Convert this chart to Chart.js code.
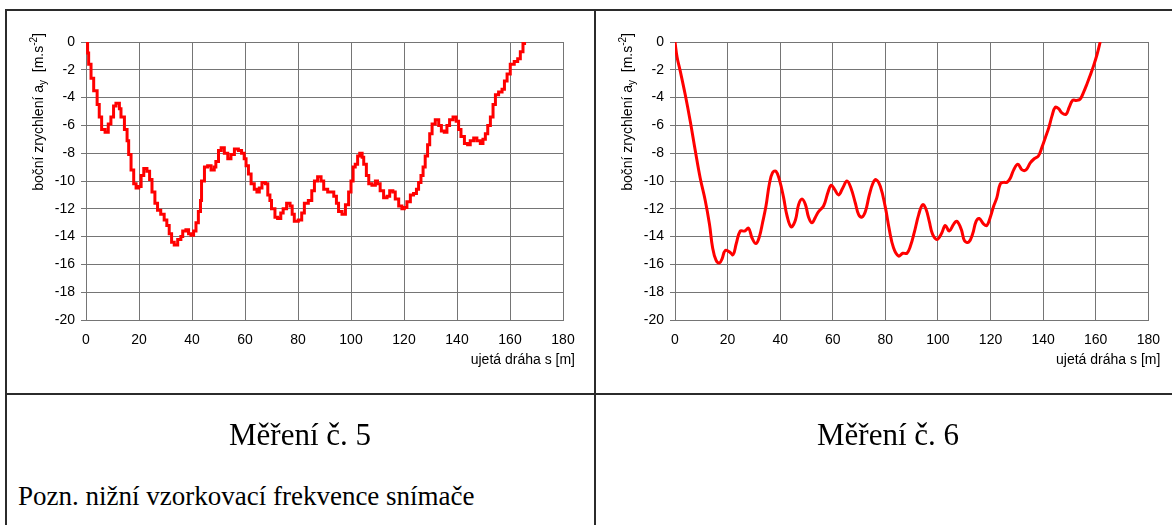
<!DOCTYPE html>
<html lang="cs">
<head>
<meta charset="utf-8">
<title>Měření č. 5 a 6</title>
<script src="https://cdn.jsdelivr.net/npm/chart.js@4.4.1/dist/chart.umd.min.js"></script>
<style>
  html, body { margin: 0; padding: 0; background: #fff; }
  #stranka { position: relative; width: 1172px; height: 525px; overflow: hidden; }
  .cara { position: absolute; background: #2b2b2b; }
  canvas { position: absolute; top: 0; }
  .popisek { position: absolute; font-family: "Liberation Serif", "Times New Roman", serif; color: #000; white-space: nowrap; }
</style>
</head>
<body>
<div id="stranka">
  <canvas id="graf5" width="595" height="394" style="left:0"></canvas>
  <canvas id="graf6" width="576" height="394" style="left:596px"></canvas>

  <div class="cara" style="left:5px; top:9px; width:1167px; height:2px"></div>
  <div class="cara" style="left:5px; top:9px; width:2px; height:516px"></div>
  <div class="cara" style="left:594px; top:9px; width:2px; height:516px"></div>
  <div class="cara" style="left:5px; top:393px; width:1167px; height:2px"></div>

  <div class="popisek" style="left:6px; width:588px; top:419px; font-size:31px; line-height:31px; text-align:center">Měření č. 5</div>
  <div class="popisek" style="left:596px; width:584px; top:419px; font-size:31px; line-height:31px; text-align:center">Měření č. 6</div>
  <div class="popisek" style="left:18px; top:483px; font-size:27px; line-height:27px">Pozn. nižní vzorkovací frekvence snímače</div>
</div>

<script>
// Měření č. 5 - ujetá dráha s [m] a boční zrychlení [m.s-2]
const draha5 = [0, 0.6, 1.0, 1.9, 2.9, 4.2, 5.0, 5.9, 7.2, 8.4, 9.4, 10.4, 11.3, 12.6, 13.2, 14.5, 15.5, 16.1, 17.0, 18.0,
  18.9, 19.9, 20.8, 21.8, 23.0, 24.0, 24.9, 26.0, 27.0, 28.2, 29.5, 30.5, 31.4, 32.3, 33.3, 34.6, 35.8, 36.5, 37.7, 38.7,
  39.6, 40.6, 41.5, 42.4, 43.2, 43.6, 44.7, 45.9, 47.2, 48.4, 49.0, 50.0, 51.0, 52.2, 53.5, 54.7, 56.0, 57.5, 58.7, 59.7,
  60.4, 61.3, 62.3, 63.5, 64.5, 65.4, 66.4, 67.7, 68.6, 69.4, 70.0, 71.3, 72.3, 73.5, 74.4, 75.7, 77.0, 77.8, 78.6, 80.1,
  81.4, 82.4, 83.9, 85.2, 86.2, 87.4, 88.7, 89.7, 91.2, 92.5, 93.5, 94.5, 95.3, 96.6, 97.9, 99.1, 100.0, 100.8, 101.6, 102.5,
  103.3, 104.2, 104.8, 105.8, 106.7, 107.9, 109.2, 110.0, 111.0, 112.3, 113.6, 114.6, 115.8, 116.7, 118.0, 119.2, 120.1, 121.1, 122.4, 123.6,
  124.7, 125.5, 126.4, 127.2, 128.0, 128.9, 129.7, 130.6, 131.8, 133.1, 134.1, 135.2, 136.2, 137.2, 138.5, 139.7, 140.6, 141.5, 142.8, 144.0,
  145.0, 146.3, 147.5, 148.8, 149.8, 150.7, 151.6, 152.6, 153.6, 154.5, 155.7, 157.0, 157.9, 158.9, 160.1, 161.6, 162.9, 163.9, 164.9, 165.5];
const zrychleni5 = [0, -0.8, -1.6, -2.6, -3.5, -4.5, -5.4, -6.3, -6.5, -5.9, -5.4, -4.6, -4.4, -4.8, -5.4, -6.3, -7.1, -8.1, -9.2, -10.2,
  -10.5, -10.4, -9.6, -9.1, -9.3, -9.9, -10.8, -11.6, -12.1, -12.4, -12.8, -13.2, -13.8, -14.4, -14.6, -14.2, -14.0, -13.6, -13.5, -13.8,
  -13.9, -13.6, -13.0, -12.2, -11.4, -10.0, -9.0, -8.9, -9.2, -9.0, -8.6, -7.8, -7.6, -8.0, -8.4, -8.1, -7.7, -7.8, -8.0, -8.4,
  -8.9, -9.5, -10.2, -10.6, -10.8, -10.5, -10.1, -10.2, -11.0, -11.4, -12.0, -12.6, -12.7, -12.3, -12.0, -11.6, -11.8, -12.4, -12.9, -12.8,
  -12.3, -11.6, -11.4, -10.7, -10.0, -9.7, -10.0, -10.6, -10.8, -10.8, -11.1, -11.6, -12.2, -12.4, -11.7, -10.8, -10.0, -9.0, -8.8, -8.2,
  -8.0, -8.3, -8.8, -9.6, -10.2, -10.3, -10.0, -10.2, -10.7, -11.2, -11.1, -10.7, -10.8, -11.3, -11.8, -12.0, -11.9, -11.5, -11.0, -10.9,
  -10.6, -10.1, -9.6, -9.0, -8.2, -7.4, -6.6, -5.9, -5.6, -6.0, -6.4, -6.5, -6.0, -5.6, -5.4, -5.7, -6.3, -6.8, -7.3, -7.4,
  -7.1, -6.9, -7.1, -7.3, -7.0, -6.6, -6.0, -5.4, -4.5, -3.8, -3.6, -3.4, -2.8, -2.3, -1.6, -1.4, -1.2, -0.7, -0.1, 0];

// Měření č. 6
const draha6 = [0, 0.8, 2.0, 3.9, 5.8, 7.7, 9.6, 11.5, 13.1, 14.3, 15.6, 16.9, 17.9, 19.1, 20.7, 22.1, 23.3, 24.8, 26.5, 28.0,
  29.3, 30.8, 32.1, 33.3, 34.6, 35.9, 37.1, 38.4, 39.7, 41.3, 42.6, 44.2, 45.8, 47.0, 48.3, 49.6, 50.8, 52.1, 53.4, 54.6,
  56.5, 58.2, 59.4, 60.7, 62.2, 63.8, 65.4, 66.9, 68.6, 69.8, 71.1, 72.4, 73.9, 75.2, 76.4, 78.1, 80.0, 81.5, 83.1, 85.0,
  86.6, 88.2, 89.5, 91.0, 92.7, 94.2, 95.4, 96.7, 97.9, 99.6, 101.3, 102.8, 104.3, 106.0, 107.2, 108.9, 110.1, 111.7, 113.2, 114.5,
  115.7, 117.4, 118.6, 119.9, 121.2, 122.4, 123.7, 125.0, 126.2, 127.5, 128.8, 130.4, 132.0, 133.5, 135.1, 136.6, 138.2, 139.5, 140.8, 142.1,
  143.4, 144.6, 145.9, 147.1, 148.7, 149.9, 151.2, 152.8, 154.1, 155.4, 156.7, 157.9, 159.2, 160.5, 161.7];
const zrychleni6 = [0, -1.1, -2.1, -3.8, -5.7, -7.8, -9.8, -11.4, -13.1, -14.8, -15.7, -15.9, -15.6, -15.0, -15.1, -15.3, -14.5, -13.6, -13.6, -13.4,
  -14.1, -14.5, -14.0, -13.0, -11.8, -10.2, -9.4, -9.3, -9.9, -11.2, -12.5, -13.3, -12.8, -11.7, -11.3, -11.7, -12.6, -13.0, -12.6, -12.2,
  -11.8, -10.8, -10.3, -10.6, -11.0, -10.5, -10.0, -10.5, -11.6, -12.4, -12.6, -12.2, -11.0, -10.2, -9.9, -10.4, -11.9, -13.5, -14.8, -15.4,
  -15.2, -15.2, -14.7, -13.7, -12.4, -11.7, -12.0, -12.9, -13.8, -14.2, -13.8, -13.2, -13.6, -13.1, -12.9, -13.5, -14.3, -14.4, -13.8, -12.9,
  -12.7, -13.1, -13.2, -12.6, -11.8, -11.2, -10.2, -10.1, -10.1, -9.8, -9.2, -8.8, -9.2, -9.2, -8.7, -8.4, -8.2, -7.6, -6.9, -6.2,
  -5.3, -4.7, -4.8, -5.1, -5.2, -4.7, -4.2, -4.2, -4.1, -3.6, -3.0, -2.4, -1.7, -0.9, 0];

const tickyX = [0, 20, 40, 60, 80, 100, 120, 140, 160, 180];
const tickyY = [0, -2, -4, -6, -8, -10, -12, -14, -16, -18, -20];

const titulekY = [
  { t: 'boční zrychlení a' },
  { t: 'y', maly: true, dy: 3 },
  { t: '  [m.s' },
  { t: '-2', maly: true, dy: -6 },
  { t: ']' }
];
const titulekX = 'ujetá dráha s [m]';

document.addEventListener('DOMContentLoaded', () => {
  const pismo = '"Liberation Sans", Arial, sans-serif';
  const barvaMrizky = '#757575';

  // popisky os (dolní index a exponent Chart.js neumí)
  const popiskyOs = {
    id: 'popiskyOs',
    afterDraw(chart) {
      const ctx = chart.ctx;
      const area = chart.chartArea;
      ctx.save();
      ctx.fillStyle = '#000';
      ctx.textBaseline = 'alphabetic';

      // osa y - otočený text, konec nahoře u y = 33
      let sirka = 0;
      titulekY.forEach(p => {
        ctx.font = (p.maly ? '10px ' : '14px ') + pismo;
        sirka += ctx.measureText(p.t).width;
      });
      ctx.translate(area.left - 43, 33 + sirka);
      ctx.rotate(-Math.PI / 2);
      let x = 0;
      titulekY.forEach(p => {
        ctx.font = (p.maly ? '10px ' : '14px ') + pismo;
        ctx.fillText(p.t, x, p.dy || 0);
        x += ctx.measureText(p.t).width;
      });
      ctx.setTransform(1, 0, 0, 1, 0, 0);

      // osa x - zarovnáno vpravo
      ctx.font = '14px ' + pismo;
      ctx.textAlign = 'right';
      ctx.fillText(titulekX, area.right + 12, 364);
      ctx.restore();
    }
  };

  function vytvorGraf(id, draha, zrychleni, vlevo, vpravo, schody) {
    const body = draha.map((s, i) => ({ x: s, y: zrychleni[i] }));
    return new Chart(document.getElementById(id), {
      type: 'line',
      data: {
        datasets: [{
          data: body,
          borderColor: '#ff0000',
          borderWidth: 3,
          pointRadius: 0,
          fill: false,
          stepped: schody ? 'before' : false,
          tension: schody ? 0 : 0.4
        }]
      },
      options: {
        responsive: false,
        animation: false,
        devicePixelRatio: 1,
        layout: { padding: { top: 42, right: vpravo, bottom: 0, left: 0 } },
        plugins: { legend: { display: false }, tooltip: { enabled: false } },
        scales: {
          x: {
            type: 'linear',
            min: 0, max: 180,
            afterFit: sc => { sc.height = 74; },
            afterBuildTicks: sc => { sc.ticks = tickyX.map(v => ({ value: v })); },
            grid: { color: barvaMrizky, drawTicks: false },
            border: { color: barvaMrizky },
            ticks: { color: '#000', font: { family: pismo, size: 14 }, padding: 12, maxRotation: 0 }
          },
          y: {
            min: -20, max: 0,
            afterFit: sc => { sc.width = vlevo; },
            afterBuildTicks: sc => { sc.ticks = tickyY.map(v => ({ value: v })); },
            grid: { color: barvaMrizky, tickLength: 5, tickColor: barvaMrizky },
            border: { color: barvaMrizky },
            ticks: { color: '#000', font: { family: pismo, size: 14 }, padding: 6 }
          }
        }
      },
      plugins: [popiskyOs]
    });
  }

  vytvorGraf('graf5', draha5, zrychleni5, 86, 32, true);
  vytvorGraf('graf6', draha6, zrychleni6, 79, 23, false);
});
</script>
</body>
</html>
